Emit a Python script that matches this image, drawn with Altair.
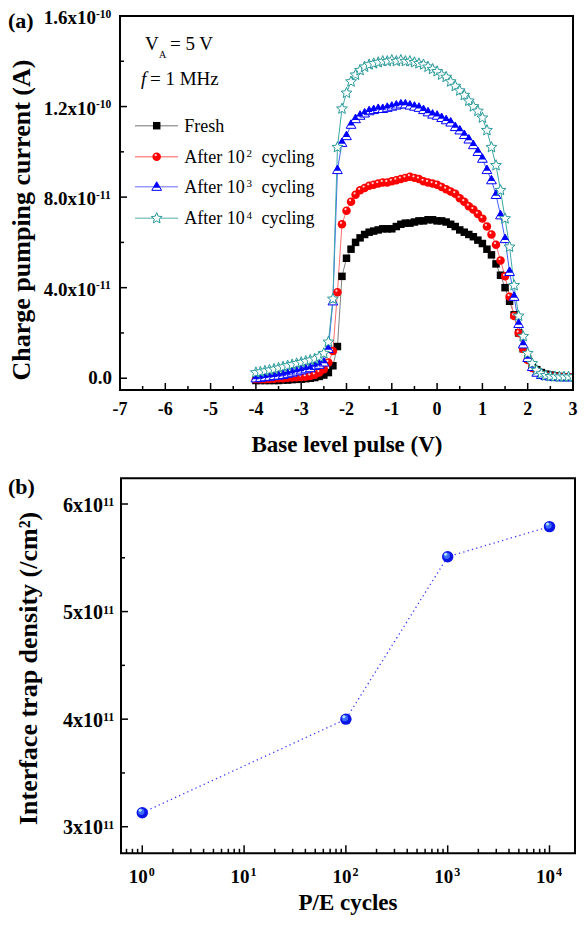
import altair as alt
import pandas as pd

FONT = "Liberation Serif"

# ---------------- data: panel (a) ----------------
bias_V = [-4.0, -3.9, -3.8, -3.7, -3.6, -3.5, -3.4, -3.3, -3.2, -3.1,
          -3.0, -2.9, -2.8, -2.7, -2.6, -2.5, -2.4, -2.3, -2.2, -2.1,
          -2.0, -1.9, -1.8, -1.7, -1.6, -1.5, -1.4, -1.3, -1.2, -1.1,
          -1.0, -0.9, -0.8, -0.7, -0.6, -0.5, -0.4, -0.3, -0.2, -0.1,
          0.0, 0.1, 0.2, 0.3, 0.4, 0.5, 0.6, 0.7, 0.8, 0.9,
          1.0, 1.1, 1.2, 1.3, 1.4, 1.5, 1.6, 1.7, 1.8, 1.9,
          2.0, 2.1, 2.2, 2.3, 2.4, 2.5, 2.6, 2.7, 2.8, 2.9, 3.0]

# charge pumping current in units of 1e-11 A
fresh = [-0.10, -0.10, -0.10, -0.10, -0.10, -0.10, -0.08, -0.08, -0.06, -0.05,
         -0.04, -0.02, 0.00, 0.03, 0.08, 0.14, 0.25, 0.55, 1.40, 4.50,
         5.30, 5.70, 6.00, 6.20, 6.35, 6.45, 6.50, 6.55, 6.60, 6.60,
         6.60, 6.70, 6.80, 6.85, 6.85, 6.90, 6.95, 6.95, 7.00, 7.00,
         6.95, 6.95, 6.90, 6.80, 6.70, 6.55, 6.45, 6.35, 6.25, 6.10,
         5.95, 5.70, 5.45, 5.05, 4.55, 4.00, 3.40, 2.80, 2.00, 1.30,
         0.85, 0.55, 0.38, 0.25, 0.18, 0.14, 0.10, 0.08, 0.06, 0.05, 0.05]
after_1e2 = [-0.05, -0.05, -0.04, -0.03, -0.02, 0.00, 0.00, 0.02, 0.03, 0.04,
             0.05, 0.07, 0.10, 0.15, 0.25, 0.40, 0.70, 1.20, 3.80, 6.80,
             7.40, 7.80, 8.10, 8.30, 8.40, 8.50, 8.55, 8.60, 8.65, 8.65,
             8.70, 8.75, 8.80, 8.85, 8.90, 8.85, 8.80, 8.70, 8.65, 8.60,
             8.55, 8.45, 8.35, 8.25, 8.15, 7.95, 7.80, 7.60, 7.45, 7.25,
             7.05, 6.70, 6.35, 5.90, 5.20, 4.50, 3.60, 2.75, 2.00, 1.30,
             0.80, 0.45, 0.30, 0.18, 0.12, 0.10, 0.08, 0.06, 0.05, 0.05, 0.05]
after_1e3 = [0.00, 0.02, 0.05, 0.07, 0.10, 0.12, 0.15, 0.20, 0.25, 0.30,
             0.35, 0.40, 0.45, 0.55, 0.60, 0.70, 1.30, 3.40, 9.20, 10.40,
             10.70, 11.20, 11.45, 11.60, 11.70, 11.80, 11.85, 11.90, 11.90, 11.95,
             12.00, 12.05, 12.10, 12.10, 12.05, 12.00, 11.95, 11.85, 11.75, 11.65,
             11.60, 11.50, 11.40, 11.30, 11.10, 10.95, 10.75, 10.55, 10.30, 10.00,
             9.70, 9.20, 8.75, 8.10, 7.20, 6.15, 4.70, 3.60, 2.40, 1.50,
             0.90, 0.50, 0.25, 0.15, 0.10, 0.08, 0.06, 0.05, 0.05, 0.05, 0.05]
after_1e4 = [0.25, 0.28, 0.32, 0.36, 0.40, 0.45, 0.50, 0.55, 0.60, 0.65,
             0.70, 0.75, 0.80, 0.85, 0.95, 1.10, 1.60, 3.50, 10.20, 11.90,
             12.60, 13.10, 13.40, 13.60, 13.75, 13.85, 13.90, 13.95, 14.00, 14.00,
             14.05, 14.00, 14.05, 14.00, 14.00, 13.95, 13.90, 13.85, 13.75, 13.65,
             13.55, 13.40, 13.30, 13.10, 12.90, 12.70, 12.50, 12.25, 12.00, 11.80,
             11.50, 10.95, 10.20, 9.40, 8.30, 7.05, 5.80, 4.10, 2.75, 1.85,
             1.10, 0.65, 0.35, 0.20, 0.12, 0.08, 0.07, 0.06, 0.06, 0.06, 0.06]

a_x_domain = [-7, 3]
a_y_domain = [-0.52, 16]
a_y_ticks = [0, 4, 8, 12, 16]
a_y_base = ["0.0", "4.0x10", "8.0x10", "1.2x10", "1.6x10"]
a_y_sup = ["", "-11", "-11", "-10", "-10"]
a_y_minor = [2, 6, 10, 14]
a_x_ticks = [-7, -6, -5, -4, -3, -2, -1, 0, 1, 2, 3]
a_x_labels = ["-7", "-6", "-5", "-4", "-3", "-2", "-1", "0", "1", "2", "3"]
a_x_minor = [-6.5, -5.5, -4.5, -3.5, -2.5, -1.5, -0.5, 0.5, 1.5, 2.5]

legend_names = ["Fresh", "After 10", "After 10", "After 10"]
legend_sups = ["", "2", "3", "4"]

# ---------------- data: panel (b) ----------------
pe_cycles = [1, 100, 1000, 10000]
trap_density = [3.13, 4.00, 5.51, 5.79]  # units of 1e11 /cm2

b_x_domain = [0.618, 17800]
b_y_domain = [2.753, 6.239]
b_y_ticks = [3, 4, 5, 6]
b_y_base = ["3x10", "4x10", "5x10", "6x10"]
b_y_sup = ["11", "11", "11", "11"]
b_y_minor = [3.5, 4.5, 5.5]
b_x_ticks = [1, 10, 100, 1000, 10000]
b_x_sup = ["0", "1", "2", "3", "4"]
b_x_minor = [0.7, 0.8, 0.9, 2, 3, 4, 5, 6, 7, 8, 9, 20, 30, 40, 50, 60, 70, 80, 90,
             200, 300, 400, 500, 600, 700, 800, 900,
             2000, 3000, 4000, 5000, 6000, 7000, 8000, 9000]

# ---------------- styles ----------------
TRI_OUT = "M0,-1L1,0.75L-1,0.75Z"
TRI_TOP = "M0,-1L0.68,0.19L-0.68,0.19Z"
STAR = ("M0,-1L0.265,-0.364L0.951,-0.309L0.428,0.139L0.588,0.809L0,0.45"
        "L-0.588,0.809L-0.428,0.139L-0.951,-0.309L-0.265,-0.364Z")
BLACK, RED, BLUE, TEAL = "#000000", "#ff0000", "#0000ff", "#2a9a9a"
ONE = pd.DataFrame({"k": [0]})


def PX(v):
    """reference page x -> view x (8px page margin, whole figure nudged 5px left to fit)"""
    return v - 13


def PY(v):
    """reference page y -> view y"""
    return v - 8


def ann(text, x, y, size=18, weight="normal", style="normal", align="left", angle=0):
    return alt.Chart(ONE).mark_text(
        text=text, font=FONT, fontSize=size, fontWeight=weight, fontStyle=style,
        align=align, baseline="alphabetic", angle=angle, color="black"
    ).encode(x=alt.value(PX(x)), y=alt.value(PY(y)))


# ================= panel (a) =================
A_L, A_R, A_T, A_B = 125, 578, 16, 390
xs1 = alt.Scale(domain=a_x_domain, range=[PX(A_L), PX(A_R)], nice=False, zero=False)
ys1 = alt.Scale(domain=a_y_domain, range=[PY(A_B), PY(A_T)], nice=False, zero=False)


def X1(f):
    return alt.X(f"{f}:Q", scale=xs1, axis=None)


def Y1(f):
    return alt.Y(f"{f}:Q", scale=ys1, axis=None)


def series_df(vals):
    return pd.DataFrame({"V": bias_V, "I": vals})


d_fr, d_r, d_b, d_c = series_df(fresh), series_df(after_1e2), series_df(after_1e3), series_df(after_1e4)
E1 = dict(x=X1("V"), y=Y1("I"))

L = []
for d, c in [(d_fr, "#808080"), (d_r, "#ff7070"), (d_b, "#4060ff"), (d_c, "#40a8a8")]:
    L.append(alt.Chart(d).mark_line(color=c, strokeWidth=1, clip=True).encode(**E1))
L.append(alt.Chart(d_fr).mark_point(shape="square", filled=True, color=BLACK, size=56, opacity=1,
                                    clip=True).encode(**E1))
L.append(alt.Chart(d_r).mark_point(shape="circle", filled=True, color=RED, size=72, opacity=1,
                                   clip=True).encode(**E1))
L.append(alt.Chart(d_r).mark_point(shape="circle", filled=True, color="#ffd6d6", size=5, opacity=1,
                                   xOffset=-1, yOffset=-1.5, clip=True).encode(**E1))
L.append(alt.Chart(d_b).mark_point(shape=TRI_OUT, filled=True, fill="white", stroke=BLUE, strokeWidth=1,
                                   size=95, opacity=1, clip=True).encode(**E1))
L.append(alt.Chart(d_b).mark_point(shape=TRI_TOP, filled=True, fill=BLUE, strokeWidth=0,
                                   size=95, opacity=1, clip=True).encode(**E1))
L.append(alt.Chart(d_c).mark_point(shape=STAR, filled=True, fill="white", stroke=TEAL, strokeWidth=1,
                                   size=130, opacity=1, clip=True).encode(**E1))

# frame
fa = pd.DataFrame({"x1": [a_x_domain[0]], "x2": [a_x_domain[1]], "y1": [a_y_domain[0]], "y2": [a_y_domain[1]]})
L.append(alt.Chart(fa).mark_rect(fill="transparent", stroke="black", strokeWidth=2).encode(
    x=X1("x1"), x2="x2:Q", y=Y1("y1"), y2="y2:Q"))

# ticks (inward)
dyt = pd.DataFrame({"t": a_y_ticks, "base": a_y_base, "sup": a_y_sup})
dxt = pd.DataFrame({"t": a_x_ticks, "lab": a_x_labels})
L.append(alt.Chart(dyt).mark_rule(color="black", strokeWidth=1.5).encode(
    y=Y1("t"), x=alt.value(PX(A_L)), x2=alt.value(PX(A_L + 7))))
L.append(alt.Chart(pd.DataFrame({"t": a_y_minor})).mark_rule(color="black", strokeWidth=1.5).encode(
    y=Y1("t"), x=alt.value(PX(A_L)), x2=alt.value(PX(A_L + 4))))
L.append(alt.Chart(dxt).mark_rule(color="black", strokeWidth=1.5).encode(
    x=X1("t"), y=alt.value(PY(A_B)), y2=alt.value(PY(A_B - 7))))
L.append(alt.Chart(pd.DataFrame({"t": a_x_minor})).mark_rule(color="black", strokeWidth=1.5).encode(
    x=X1("t"), y=alt.value(PY(A_B)), y2=alt.value(PY(A_B - 4))))

# tick labels
L.append(alt.Chart(dyt).transform_filter("datum.sup != ''").mark_text(
    font=FONT, fontSize=19, fontWeight="bold", align="right", baseline="alphabetic", dy=8).encode(
    y=Y1("t"), x=alt.value(PX(A_L - 24)), text="base:N"))
L.append(alt.Chart(dyt).transform_filter("datum.sup != ''").mark_text(
    font=FONT, fontSize=11.5, fontWeight="bold", align="left", baseline="alphabetic", dy=1.5).encode(
    y=Y1("t"), x=alt.value(PX(A_L - 24)), text="sup:N"))
L.append(alt.Chart(dyt).transform_filter("datum.sup == ''").mark_text(
    font=FONT, fontSize=19, fontWeight="bold", align="right", baseline="alphabetic", dy=6).encode(
    y=Y1("t"), x=alt.value(PX(A_L - 8)), text="base:N"))
L.append(alt.Chart(dxt).mark_text(
    font=FONT, fontSize=18, fontWeight="bold", align="center", baseline="alphabetic").encode(
    x=X1("t"), y=alt.value(PY(A_B + 25)), text="lab:N"))

# titles & panel label
L.append(ann("Charge pumping current (A)", 35, 220, size=26, weight="bold", align="center", angle=270))
L.append(ann("Base level pulse (V)", 352, 452, size=23, weight="bold", align="center"))
L.append(ann("(a)", 13, 28, size=22, weight="bold"))

# annotations
L.append(ann("V", 150, 50, size=19))
L.append(ann("A", 164, 58, size=10))
L.append(ann("= 5 V", 175, 50, size=19))
L.append(ann("f", 146, 85, size=19, style="italic"))
L.append(ann("= 1 MHz", 155, 85, size=19))

# legend
rows = [125.7, 156.7, 186.7, 218.3]
line_cols = ["#a0a0a0", "#ff9090", "#9a9aff", "#8cc8c8"]
for r, c in zip(rows, line_cols):
    L.append(alt.Chart(ONE).mark_rule(color=c, strokeWidth=1.5).encode(
        x=alt.value(PX(140)), x2=alt.value(PX(183)), y=alt.value(PY(r))))
mx = PX(161.7)
L.append(alt.Chart(ONE).mark_point(shape="square", filled=True, color=BLACK, size=56, opacity=1).encode(
    x=alt.value(mx), y=alt.value(PY(rows[0]))))
L.append(alt.Chart(ONE).mark_point(shape="circle", filled=True, color=RED, size=72, opacity=1).encode(
    x=alt.value(mx), y=alt.value(PY(rows[1]))))
L.append(alt.Chart(ONE).mark_point(shape="circle", filled=True, color="#ffd6d6", size=5, opacity=1).encode(
    x=alt.value(mx - 1), y=alt.value(PY(rows[1]) - 1.5)))
L.append(alt.Chart(ONE).mark_point(shape=TRI_OUT, filled=True, fill="white", stroke=BLUE, strokeWidth=1,
                                   size=95, opacity=1).encode(x=alt.value(mx), y=alt.value(PY(rows[2]))))
L.append(alt.Chart(ONE).mark_point(shape=TRI_TOP, filled=True, fill=BLUE, strokeWidth=0,
                                   size=95, opacity=1).encode(x=alt.value(mx), y=alt.value(PY(rows[2]))))
L.append(alt.Chart(ONE).mark_point(shape=STAR, filled=True, fill="white", stroke=TEAL, strokeWidth=1,
                                   size=130, opacity=1).encode(x=alt.value(mx), y=alt.value(PY(rows[3]))))
for r, name, sup in zip(rows, legend_names, legend_sups):
    L.append(ann(name, 189.3, r + 6, size=18))
    if sup:
        L.append(ann(sup, 251.5, r + 0.5, size=11))
        L.append(ann("cycling", 266.5, r + 6, size=18))

# ================= panel (b) =================
B_L, B_R, B_T, B_B = 126, 580, 478.3, 853.3
xs2 = alt.Scale(type="log", domain=b_x_domain, range=[PX(B_L), PX(B_R)], nice=False)
ys2 = alt.Scale(domain=b_y_domain, range=[PY(B_B), PY(B_T)], nice=False, zero=False)


def X2(f):
    return alt.X(f"{f}:Q", scale=xs2, axis=None)


def Y2(f):
    return alt.Y(f"{f}:Q", scale=ys2, axis=None)


d_b2 = pd.DataFrame({"n": pe_cycles, "d": trap_density})
E2 = dict(x=X2("n"), y=Y2("d"))
L.append(alt.Chart(d_b2).mark_line(color="#3a3aff", strokeWidth=1.3, strokeDash=[1.3, 3.2]).encode(**E2))
L.append(alt.Chart(d_b2).mark_point(shape="circle", filled=True, color="#0a14e6", size=130, opacity=1).encode(**E2))
L.append(alt.Chart(d_b2).mark_point(shape="circle", filled=True, color="#3c6cff", size=40, opacity=1,
                                    xOffset=-1, yOffset=-1).encode(**E2))
L.append(alt.Chart(d_b2).mark_point(shape="circle", filled=True, color="#b8e4ff", size=9, opacity=1,
                                    xOffset=-2, yOffset=-2.5).encode(**E2))

fb = pd.DataFrame({"x1": [b_x_domain[0]], "x2": [b_x_domain[1]], "y1": [b_y_domain[0]], "y2": [b_y_domain[1]]})
L.append(alt.Chart(fb).mark_rect(fill="transparent", stroke="black", strokeWidth=2).encode(
    x=X2("x1"), x2="x2:Q", y=Y2("y1"), y2="y2:Q"))

dyt2 = pd.DataFrame({"t": b_y_ticks, "base": b_y_base, "sup": b_y_sup})
dxt2 = pd.DataFrame({"t": b_x_ticks, "sup": b_x_sup})
L += [
    alt.Chart(dyt2).mark_rule(color="black", strokeWidth=1.5).encode(
        y=Y2("t"), x=alt.value(PX(B_L)), x2=alt.value(PX(B_L + 7))),
    alt.Chart(pd.DataFrame({"t": b_y_minor})).mark_rule(color="black", strokeWidth=1.5).encode(
        y=Y2("t"), x=alt.value(PX(B_L)), x2=alt.value(PX(B_L + 4))),
    alt.Chart(dxt2).mark_rule(color="black", strokeWidth=1.5).encode(
        x=X2("t"), y=alt.value(PY(B_B)), y2=alt.value(PY(B_B - 8))),
    alt.Chart(pd.DataFrame({"t": b_x_minor})).mark_rule(color="black", strokeWidth=1.5).encode(
        x=X2("t"), y=alt.value(PY(B_B)), y2=alt.value(PY(B_B - 4.5))),
    alt.Chart(dyt2).mark_text(font=FONT, fontSize=20, fontWeight="bold", align="right",
                              baseline="alphabetic", dy=7.7).encode(
        y=Y2("t"), x=alt.value(PX(B_L - 18)), text="base:N"),
    alt.Chart(dyt2).mark_text(font=FONT, fontSize=12, fontWeight="bold", align="left",
                              baseline="alphabetic", dy=2).encode(
        y=Y2("t"), x=alt.value(PX(B_L - 18)), text="sup:N"),
    alt.Chart(dxt2).mark_text(font=FONT, fontSize=19, fontWeight="bold", align="right",
                              baseline="alphabetic", dx=5.5).encode(
        x=X2("t"), y=alt.value(PY(B_B + 30)), text=alt.value("10")),
    alt.Chart(dxt2).mark_text(font=FONT, fontSize=12, fontWeight="bold", align="left",
                              baseline="alphabetic", dx=6.5).encode(
        x=X2("t"), y=alt.value(PY(B_B + 23)), text="sup:N"),
    ann("Interface trap density (/cm\u00b2)", 42, 668.5, size=26, weight="bold", align="center", angle=270),
    ann("P/E cycles", 353, 910, size=23, weight="bold", align="center"),
    ann("(b)", 13, 494, size=22, weight="bold"),
]

chart = alt.layer(*L).resolve_scale(x="independent", y="independent").properties(
    width=565, height=902,
    autosize=alt.AutoSizeParams(type="none"),
    padding={"left": 0, "top": 0, "right": 5, "bottom": 5},
    background="white",
).configure_view(stroke="transparent")

chart.save("out.html", embed_options={"renderer": "svg", "actions": False})
